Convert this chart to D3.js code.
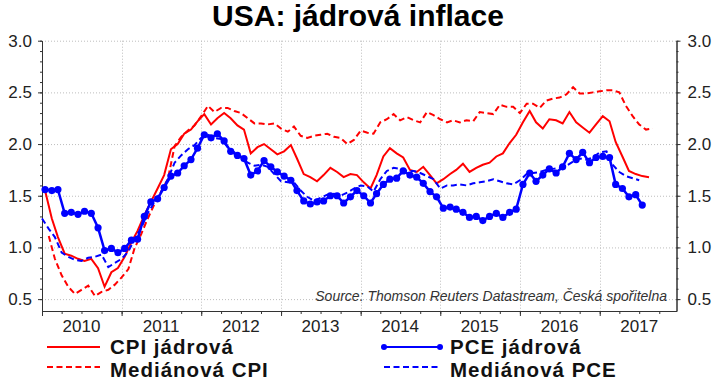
<!DOCTYPE html>
<html>
<head>
<meta charset="utf-8">
<script src="https://cdn.jsdelivr.net/npm/d3@7"></script>
<style>
  body { margin: 0; background: #fff; }
  text { font-family: "Liberation Sans", Arial, sans-serif; }
</style>
</head>
<body>
<script>
// y/y core inflation, monthly (%)
const cpiStart = [2010, 0];      // Jan 2010
const cpi = [
    1.55, 1.28, 1.10, 0.94, 0.92, 0.89, 0.87, 0.89, 0.80, 0.62, 0.76, 0.80, 0.91, 1.05, 1.16, 1.31, 1.44, 1.57,
    1.70, 1.95, 2.00, 2.10, 2.14, 2.22, 2.29, 2.19, 2.25, 2.30, 2.25, 2.18, 2.14, 1.91, 1.97, 2.00, 1.95, 1.90, 1.93, 1.99,
    1.86, 1.71, 1.68, 1.64, 1.70, 1.77, 1.73, 1.68, 1.71, 1.70, 1.63, 1.57, 1.70, 1.88, 1.96, 1.91, 1.87, 1.75, 1.73, 1.78,
    1.70, 1.62, 1.66, 1.71, 1.75, 1.81, 1.73, 1.77, 1.80, 1.82, 1.88, 1.91, 2.01, 2.09, 2.21, 2.32, 2.21, 2.15,
    2.24, 2.23, 2.20, 2.31, 2.21, 2.16, 2.11, 2.19, 2.27, 2.22, 2.02, 1.88, 1.74, 1.71, 1.69, 1.68
];
const pceStart = [2010, 0];
const pce = [
    1.56, 1.55, 1.56, 1.33, 1.34, 1.32, 1.35, 1.33, 1.19, 0.97, 0.99, 0.95, 0.99, 1.07, 1.08, 1.30, 1.44, 1.47,
    1.58, 1.69, 1.72, 1.79, 1.85, 1.96, 2.09, 2.06, 2.10, 2.03, 1.93, 1.89, 1.86, 1.70, 1.74, 1.84, 1.78, 1.73, 1.69, 1.65,
    1.55, 1.45, 1.42, 1.44, 1.45, 1.50, 1.50, 1.43, 1.49, 1.55, 1.50, 1.43, 1.52, 1.61, 1.66, 1.67, 1.74, 1.70, 1.68, 1.62,
    1.54, 1.49, 1.38, 1.39, 1.37, 1.34, 1.29, 1.30, 1.26, 1.30, 1.33, 1.29, 1.34, 1.37, 1.61, 1.72, 1.64, 1.70,
    1.76, 1.72, 1.78, 1.91, 1.85, 1.92, 1.82, 1.87, 1.88, 1.87, 1.61, 1.57, 1.49, 1.51, 1.41
];
// median series are dated at month end in the source
const medCpiStart = [2010, 0];
const medCpi = [
    1.11, 0.89, 0.73, 0.62, 0.55, 0.59, 0.63, 0.53, 0.57, 0.59, 0.64, 0.71, 0.79, 0.99, 1.13, 1.28, 1.42, 1.54, 1.66,
    1.98, 2.07, 2.13, 2.18, 2.27, 2.37, 2.31, 2.35, 2.35, 2.32, 2.30, 2.25, 2.20, 2.20, 2.19, 2.20, 2.15, 2.12, 2.17,
    2.08, 2.06, 2.08, 2.09, 2.10, 2.07, 2.06, 2.00, 2.04, 2.13, 2.11, 2.10, 2.21, 2.24, 2.29, 2.23, 2.26, 2.23, 2.21,
    2.31, 2.28, 2.24, 2.21, 2.23, 2.21, 2.23, 2.22, 2.31, 2.30, 2.29, 2.38, 2.36, 2.36, 2.30, 2.39, 2.39, 2.35,
    2.42, 2.44, 2.45, 2.48, 2.55, 2.49, 2.49, 2.50, 2.51, 2.52, 2.52, 2.50, 2.37, 2.27, 2.19, 2.14, 2.15
];
const medPceStart = [2009, 11];  // Dec 2009
const medPce = [
    1.28, 1.18, 1.10, 0.95, 0.91, 0.88, 0.87, 0.90, 0.91, 0.93, 0.81, 0.85, 0.89, 0.96, 1.08, 1.19, 1.33, 1.44, 1.54, 1.66,
    1.82, 1.89, 1.95, 1.99, 2.06, 2.09, 2.06, 2.05, 1.97, 1.92, 1.88, 1.82, 1.79, 1.80, 1.78, 1.71, 1.64, 1.63, 1.63,
    1.55, 1.49, 1.45, 1.48, 1.51, 1.52, 1.50, 1.53, 1.57, 1.60, 1.59, 1.54, 1.66, 1.74, 1.77, 1.76, 1.74, 1.74, 1.72,
    1.69, 1.66, 1.57, 1.60, 1.60, 1.61, 1.60, 1.62, 1.63, 1.64, 1.66, 1.64, 1.62, 1.61, 1.65, 1.71, 1.72, 1.73,
    1.75, 1.76, 1.77, 1.79, 1.83, 1.86, 1.85, 1.87, 1.92, 1.93, 1.80, 1.73, 1.69, 1.67, 1.65
];

const years = [2010, 2011, 2012, 2013, 2014, 2015, 2016, 2017];
const yTicks = [0.5, 1.0, 1.5, 2.0, 2.5, 3.0];

const width = 720, height = 382;
const red = "#ff0000", blue = "#0000ff";

let svg = d3.select("body")
    .append("svg")
    .attr("width", width)
    .attr("height", height);

let x = d3.scaleTime()
    .domain([new Date(2010, 0, 1), new Date(2017, 11, 19)])
    .range([42, 676.5]);

let y = d3.scaleLinear()
    .domain([0.385, 3.0])
    .range([311, 40.7]);

// mid-month points vs month-end points
function midMonth(start, values) {
    return values.map((v, i) => ({date: new Date(start[0], start[1] + i, 15), v: v}));
}
function monthEnd(start, values) {
    return values.map((v, i) => ({date: new Date(start[0], start[1] + i + 1, 1), v: v}));
}

let cpiData = midMonth(cpiStart, cpi);
let pceData = midMonth(pceStart, pce);
let medCpiData = monthEnd(medCpiStart, medCpi);
let medPceData = monthEnd(medPceStart, medPce);

// title
svg.append("text")
    .attr("x", 358)
    .attr("y", 26)
    .attr("text-anchor", "middle")
    .style("font-size", "30px")
    .style("font-weight", "bold")
    .text("USA: jádrová inflace");

// grid
let grid = svg.append("g").attr("stroke", "#bdbdbd").attr("stroke-dasharray", "1,2");
grid.selectAll("line.h")
    .data(yTicks)
    .join("line")
    .attr("class", "h")
    .attr("x1", x.range()[0])
    .attr("x2", x.range()[1])
    .attr("y1", d => y(d) + 0.5)
    .attr("y2", d => y(d) + 0.5);
grid.selectAll("line.v")
    .data(years.slice(1))
    .join("line")
    .attr("class", "v")
    .attr("x1", d => Math.round(x(new Date(d, 0, 1))) + 0.5)
    .attr("x2", d => Math.round(x(new Date(d, 0, 1))) + 0.5)
    .attr("y1", y.range()[1])
    .attr("y2", y.range()[0]);

// axes
let minorY = d3.range(5, 31).map(d => d / 10);

function styleAxis(g) {
    g.select(".domain").attr("stroke", "#333");
    g.selectAll(".tick line").attr("stroke", "#333");
    g.selectAll(".tick text")
        .style("font-size", "17px")
        .attr("fill", "#222");
}

svg.append("g")
    .attr("transform", `translate(${x.range()[0]},0)`)
    .call(d3.axisLeft(y).tickValues(minorY).tickSize(2).tickSizeOuter(0).tickFormat(""))
    .call(styleAxis);
svg.append("g")
    .attr("transform", `translate(${x.range()[0]},0)`)
    .call(d3.axisLeft(y).tickValues(yTicks).tickSize(4).tickSizeOuter(0).tickPadding(6).tickFormat(d3.format(".1f")))
    .call(styleAxis);

svg.append("g")
    .attr("transform", `translate(${x.range()[1]},0)`)
    .call(d3.axisRight(y).tickValues(minorY).tickSize(2).tickSizeOuter(0).tickFormat(""))
    .call(styleAxis);
svg.append("g")
    .attr("transform", `translate(${x.range()[1]},0)`)
    .call(d3.axisRight(y).tickValues(yTicks).tickSize(4).tickSizeOuter(0).tickPadding(7).tickFormat(d3.format(".1f")))
    .call(styleAxis);

let quarters = d3.timeMonth.every(3).range(new Date(2010, 0, 1), new Date(2018, 0, 1));
svg.append("g")
    .attr("transform", `translate(0,${y.range()[0]})`)
    .call(d3.axisBottom(x).tickValues(quarters).tickSize(3).tickSizeOuter(0).tickFormat(""))
    .call(styleAxis);
svg.append("g")
    .attr("transform", `translate(0,${y.range()[0]})`)
    .call(d3.axisBottom(x).tickValues(years.map(d => new Date(d, 0, 1))).tickSize(5).tickSizeOuter(0).tickFormat(""))
    .call(styleAxis);

svg.append("g")
    .selectAll("text")
    .data(years)
    .join("text")
    .attr("x", d => x(new Date(d, 6, 1)))
    .attr("y", 332)
    .attr("text-anchor", "middle")
    .style("font-size", "17px")
    .attr("fill", "#222")
    .text(d => d);

// source
svg.append("text")
    .attr("x", 667)
    .attr("y", 301)
    .attr("text-anchor", "end")
    .style("font-size", "14px")
    .style("font-style", "italic")
    .attr("fill", "#333")
    .text("Source: Thomson Reuters Datastream, Česká spořitelna");

// series
let line = d3.line()
    .x(d => x(d.date))
    .y(d => y(d.v));

let plot = svg.append("g");

plot.append("path")
    .datum(medCpiData)
    .attr("fill", "none")
    .attr("stroke", red)
    .attr("stroke-width", 2)
    .attr("stroke-dasharray", "6,3.5")
    .attr("d", line);

plot.append("path")
    .datum(cpiData)
    .attr("fill", "none")
    .attr("stroke", red)
    .attr("stroke-width", 2)
    .attr("d", line);

plot.append("path")
    .datum(medPceData)
    .attr("fill", "none")
    .attr("stroke", blue)
    .attr("stroke-width", 2)
    .attr("stroke-dasharray", "6,3.5")
    .attr("d", line);

plot.append("path")
    .datum(pceData)
    .attr("fill", "none")
    .attr("stroke", blue)
    .attr("stroke-width", 2.5)
    .attr("d", line);

plot.selectAll("circle")
    .data(pceData)
    .join("circle")
    .attr("cx", d => x(d.date))
    .attr("cy", d => y(d.v))
    .attr("r", 3.6)
    .attr("fill", blue);

// legend
const legendItems = [
    {label: "CPI jádrová", color: red, dash: null, dots: false, col: 0, row: 0},
    {label: "Mediánová CPI", color: red, dash: "6,3.5", dots: false, col: 0, row: 1},
    {label: "PCE jádrová", color: blue, dash: null, dots: true, col: 1, row: 0},
    {label: "Mediánová PCE", color: blue, dash: "6,3.5", dots: false, col: 1, row: 1}
];
const legendCols = [{x1: 47, x2: 100, tx: 110}, {x1: 384, x2: 440, tx: 450}];
const legendRows = [{ly: 347, ty: 354}, {ly: 367, ty: 377}];

let legend = svg.append("g");
legendItems.forEach(d => {
    let c = legendCols[d.col];
    let r = legendRows[d.row];
    legend.append("line")
        .attr("x1", c.x1)
        .attr("x2", c.x2)
        .attr("y1", r.ly)
        .attr("y2", r.ly)
        .attr("stroke", d.color)
        .attr("stroke-width", 2)
        .attr("stroke-dasharray", d.dash);
    if (d.dots) {
        [c.x1, c.x2].forEach(cx => {
            legend.append("circle").attr("cx", cx).attr("cy", r.ly).attr("r", 3).attr("fill", d.color);
        });
    }
    legend.append("text")
        .attr("x", c.tx)
        .attr("y", r.ty)
        .style("font-size", "20.5px")
        .style("font-weight", "bold")
        .style("letter-spacing", "1px")
        .attr("fill", "#111")
        .text(d.label);
});
</script>
</body>
</html>
